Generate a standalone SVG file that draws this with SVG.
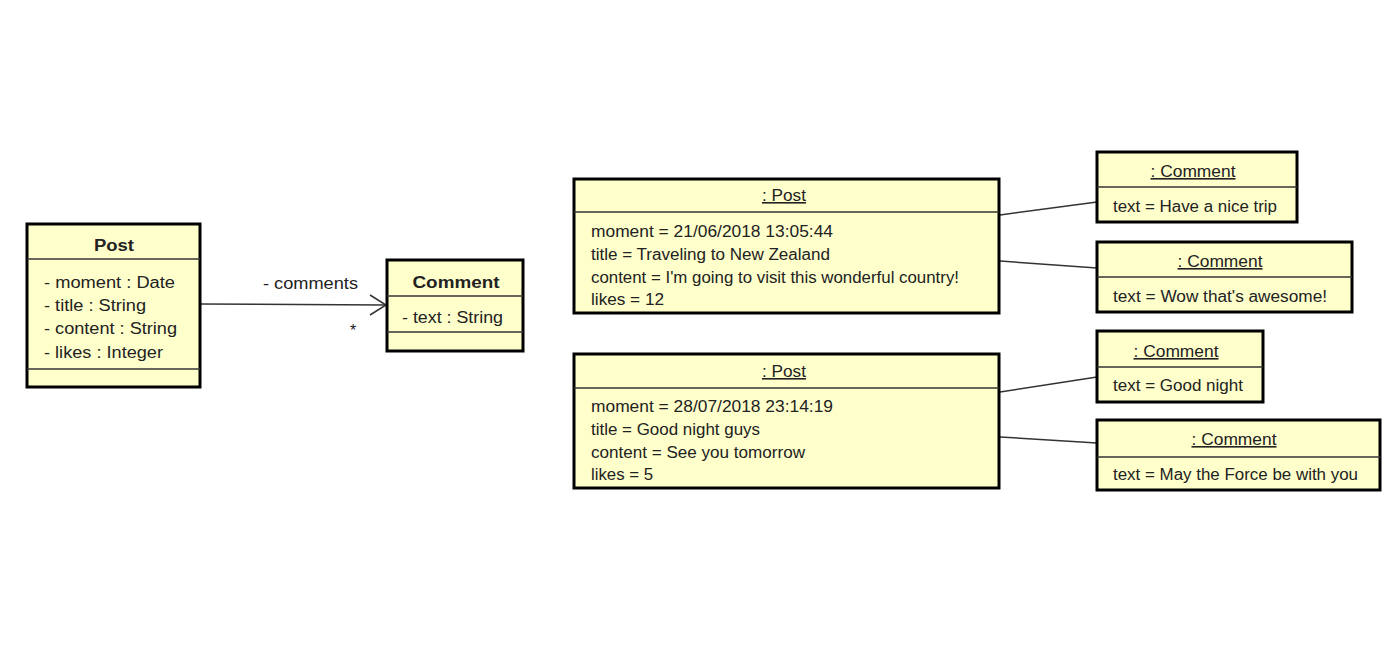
<svg xmlns="http://www.w3.org/2000/svg" width="1393" height="671" viewBox="0 0 1393 671">
<style>
.box{fill:#ffffcc;stroke:#000;stroke-width:3}
.div{stroke:#333;stroke-width:1.5;fill:none}
.t{font-family:"Liberation Sans",Arial,sans-serif;font-size:16px;fill:#222}
.b{font-weight:bold;text-anchor:middle}
.u{text-decoration:underline;text-anchor:middle}
.c{stroke:#333;stroke-width:1.5;fill:none}
</style>
<rect width="1393" height="671" fill="#fff"/>
<g id="connectors">
<line class="c" x1="200" y1="304" x2="386" y2="305"/>
<polyline class="c" points="370,295 386,305 370,315"/>
<text class="t" x="263" y="289" textLength="95" lengthAdjust="spacingAndGlyphs">- comments</text>
<text class="t" x="350" y="336">*</text>
<line class="c" x1="1000" y1="215" x2="1097" y2="202"/>
<line class="c" x1="1000" y1="261" x2="1097" y2="268"/>
<line class="c" x1="1000" y1="392" x2="1097" y2="377"/>
<line class="c" x1="1000" y1="437" x2="1097" y2="443"/>
</g>
<g id="class-post">
<rect class="box" x="27" y="224" width="173" height="163"/>
<line class="div" x1="27" y1="259" x2="200" y2="259"/>
<line class="div" x1="27" y1="369" x2="200" y2="369"/>
<text class="t b" x="114" y="251" textLength="40" lengthAdjust="spacingAndGlyphs">Post</text>
<text class="t" x="44" y="288" textLength="131" lengthAdjust="spacingAndGlyphs">- moment : Date</text>
<text class="t" x="44" y="311" textLength="102" lengthAdjust="spacingAndGlyphs">- title : String</text>
<text class="t" x="44" y="334" textLength="133" lengthAdjust="spacingAndGlyphs">- content : String</text>
<text class="t" x="44" y="358" textLength="119" lengthAdjust="spacingAndGlyphs">- likes : Integer</text>
</g>
<g id="class-comment">
<rect class="box" x="387" y="260" width="136" height="91"/>
<line class="div" x1="387" y1="296" x2="523" y2="296"/>
<line class="div" x1="387" y1="332" x2="523" y2="332"/>
<text class="t b" x="456" y="288" textLength="87" lengthAdjust="spacingAndGlyphs">Comment</text>
<text class="t" x="402" y="323" textLength="101" lengthAdjust="spacingAndGlyphs">- text : String</text>
</g>
<g id="post1">
<rect class="box" x="574" y="179" width="425" height="134"/>
<line class="div" x1="574" y1="212" x2="999" y2="212"/>
<text class="t u" x="784" y="201" textLength="44" lengthAdjust="spacingAndGlyphs">: Post</text>
<text class="t" x="591" y="237" textLength="242" lengthAdjust="spacingAndGlyphs">moment = 21/06/2018 13:05:44</text>
<text class="t" x="591" y="260" textLength="239" lengthAdjust="spacingAndGlyphs">title = Traveling to New Zealand</text>
<text class="t" x="591" y="283" textLength="368" lengthAdjust="spacingAndGlyphs">content = I'm going to visit this wonderful country!</text>
<text class="t" x="591" y="305" textLength="73" lengthAdjust="spacingAndGlyphs">likes = 12</text>
</g>
<g id="post2">
<rect class="box" x="574" y="354" width="425" height="134"/>
<line class="div" x1="574" y1="388" x2="999" y2="388"/>
<text class="t u" x="784" y="377" textLength="44" lengthAdjust="spacingAndGlyphs">: Post</text>
<text class="t" x="591" y="412" textLength="242" lengthAdjust="spacingAndGlyphs">moment = 28/07/2018 23:14:19</text>
<text class="t" x="591" y="435" textLength="169" lengthAdjust="spacingAndGlyphs">title = Good night guys</text>
<text class="t" x="591" y="458" textLength="214" lengthAdjust="spacingAndGlyphs">content = See you tomorrow</text>
<text class="t" x="591" y="480" textLength="62" lengthAdjust="spacingAndGlyphs">likes = 5</text>
</g>
<g id="comment1">
<rect class="box" x="1097" y="152" width="200" height="70"/>
<line class="div" x1="1097" y1="187" x2="1297" y2="187"/>
<text class="t u" x="1193" y="177" textLength="85" lengthAdjust="spacingAndGlyphs">: Comment</text>
<text class="t" x="1113" y="212" textLength="164" lengthAdjust="spacingAndGlyphs">text = Have a nice trip</text>
</g>
<g id="comment2">
<rect class="box" x="1097" y="242" width="255" height="70"/>
<line class="div" x1="1097" y1="277" x2="1352" y2="277"/>
<text class="t u" x="1220" y="267" textLength="85" lengthAdjust="spacingAndGlyphs">: Comment</text>
<text class="t" x="1113" y="302" textLength="214" lengthAdjust="spacingAndGlyphs">text = Wow that's awesome!</text>
</g>
<g id="comment3">
<rect class="box" x="1097" y="331" width="166" height="71"/>
<line class="div" x1="1097" y1="367" x2="1263" y2="367"/>
<text class="t u" x="1176" y="357" textLength="85" lengthAdjust="spacingAndGlyphs">: Comment</text>
<text class="t" x="1113" y="391" textLength="130" lengthAdjust="spacingAndGlyphs">text = Good night</text>
</g>
<g id="comment4">
<rect class="box" x="1097" y="420" width="283" height="70"/>
<line class="div" x1="1097" y1="457" x2="1380" y2="457"/>
<text class="t u" x="1234" y="445" textLength="85" lengthAdjust="spacingAndGlyphs">: Comment</text>
<text class="t" x="1113" y="480" textLength="245" lengthAdjust="spacingAndGlyphs">text = May the Force be with you</text>
</g>
</svg>
